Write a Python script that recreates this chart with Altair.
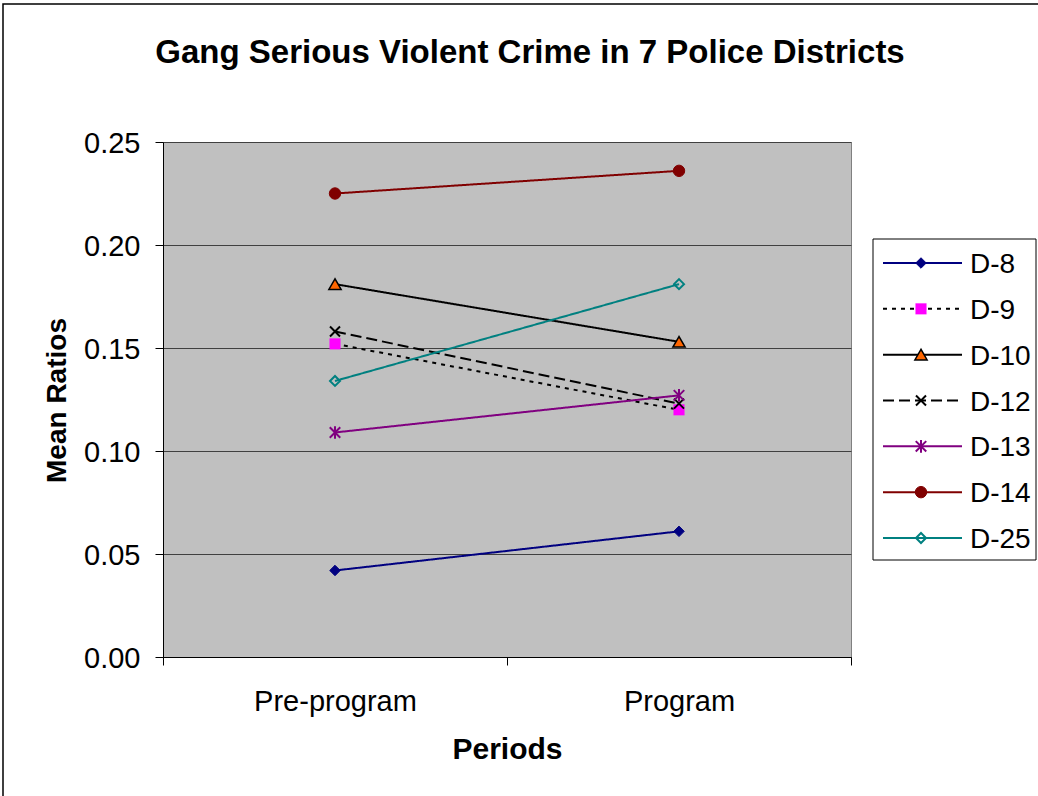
import altair as alt
import pandas as pd

periods = ["Pre-program", "Program"]
series = ["D-8", "D-9", "D-10", "D-12", "D-13", "D-14", "D-25"]
pre_values = [0.042, 0.152, 0.181, 0.158, 0.109, 0.225, 0.134]
program_values = [0.061, 0.120, 0.153, 0.123, 0.127, 0.236, 0.181]
y_ticks = [0.0, 0.05, 0.10, 0.15, 0.20, 0.25]
title_text = "Gang Serious Violent Crime in 7 Police Districts"

line_colors = ["#000080", "#000000", "#000000", "#000000", "#800080", "#800000", "#008080"]
line_dashes = [[1, 0], [4, 5], [1, 0], [11, 5], [1, 0], [1, 0], [1, 0]]
marker_shapes = [
    "diamond",
    "square",
    "triangle-up",
    "M-1,-1L1,1M-1,1L1,-1",
    "M-1,-1L1,1M-1,1L1,-1M0,-1.2L0,1.2",
    "circle",
    "diamond",
]
marker_fills = ["#000080", "#FF00FF", "#FF6600", "transparent", "transparent", "#800000", "transparent"]
marker_strokes = ["#000080", "#FF00FF", "#000000", "#000000", "#800080", "#800000", "#008080"]
marker_widths = [1, 0.1, 1.5, 2, 2, 1, 2]
marker_sizes = [110, 120, 150, 100, 110, 130, 100]

rows = []
for s, a, b in zip(series, pre_values, program_values):
    rows.append({"series": s, "period": periods[0], "value": a})
    rows.append({"series": s, "period": periods[1], "value": b})
df = pd.DataFrame(rows)
legend_df = pd.DataFrame({"series": series})

FONT = "Liberation Sans"

lcolor_enc = alt.Color("series:N", scale=alt.Scale(domain=series, range=line_colors), legend=None)
dash_enc = alt.StrokeDash("series:N", scale=alt.Scale(domain=series, range=line_dashes), legend=None)
mstroke_enc = alt.Stroke("series:N", scale=alt.Scale(domain=series, range=marker_strokes), legend=None)
mfill_enc = alt.Fill("series:N", scale=alt.Scale(domain=series, range=marker_fills), legend=None)
mshape_enc = alt.Shape("series:N", scale=alt.Scale(domain=series, range=marker_shapes), legend=None)
msize_enc = alt.Size("series:N", scale=alt.Scale(type="ordinal", domain=series, range=marker_sizes), legend=None)
mwidth_enc = alt.StrokeWidth("series:N", scale=alt.Scale(type="ordinal", domain=series, range=marker_widths), legend=None)

x_scale = alt.Scale(type="band", domain=periods, paddingInner=0, paddingOuter=0)
x_enc = alt.X(
    "period:N",
    sort=periods,
    scale=x_scale,
    axis=alt.Axis(
        title="Periods",
        tickBand="extent",
        labelAngle=0,
        grid=False,
        domainColor="black",
        tickColor="black",
        tickSize=8,
        labelFont=FONT,
        labelFontSize=29,
        labelColor="black",
        labelBaseline="alphabetic",
        labelPadding=45,
        titleFont=FONT,
        titleFontSize=30,
        titleFontWeight="bold",
        titleColor="black",
        titleBaseline="alphabetic",
        titleY=101,
    ),
)

y_scale = alt.Scale(domain=[0, 0.25], nice=False, zero=True)
y_axis = alt.Axis(
    values=y_ticks,
    format=".2f",
    title="Mean Ratios",
    grid=True,
    gridColor="#404040",
    gridWidth=1,
    domainColor="black",
    tickColor="black",
    tickSize=8,
    labelFont=FONT,
    labelFontSize=29,
    labelColor="black",
    labelPadding=15,
    labelBaseline="alphabetic",
    labelOffset=10,
    titleFont=FONT,
    titleFontSize=28,
    titleFontWeight="bold",
    titleColor="black",
    titleAngle=270,
    titleAlign="center",
    titleBaseline="alphabetic",
    titleX=-98,
    titleY=258,
)

lines = alt.Chart(df).mark_line(strokeWidth=2).encode(
    x=x_enc,
    y=alt.Y("value:Q", scale=y_scale, axis=y_axis),
    color=lcolor_enc,
    strokeDash=dash_enc,
    order=alt.Order("period:N"),
)

points = alt.Chart(df).mark_point(opacity=1, fillOpacity=1, strokeOpacity=1).encode(
    x=alt.X("period:N", sort=periods, scale=x_scale),
    y=alt.Y("value:Q", scale=y_scale, axis=None),
    stroke=mstroke_enc,
    fill=mfill_enc,
    shape=mshape_enc,
    size=msize_enc,
    strokeWidth=mwidth_enc,
)

legend_y = alt.Y("series:N", sort=series,
                 scale=alt.Scale(type="point", domain=series, range=[121, 396], padding=0),
                 axis=None)

legend_box = alt.Chart(pd.DataFrame({"k": [0]})).mark_rect(
    fill="white", stroke="black", strokeWidth=1
).encode(x=alt.value(710), x2=alt.value(873), y=alt.value(97), y2=alt.value(418))

legend_rules = alt.Chart(legend_df).mark_rule(strokeWidth=2).encode(
    x=alt.value(720), x2=alt.value(799), y=legend_y, color=lcolor_enc, strokeDash=dash_enc
)

legend_points = alt.Chart(legend_df).mark_point(opacity=1, fillOpacity=1, strokeOpacity=1).encode(
    x=alt.value(758), y=legend_y, stroke=mstroke_enc, fill=mfill_enc,
    shape=mshape_enc, size=msize_enc, strokeWidth=mwidth_enc,
)

legend_text = alt.Chart(legend_df).mark_text(
    align="left", baseline="alphabetic", dy=10, font=FONT, fontSize=28, color="black"
).encode(x=alt.value(807), y=legend_y, text="series:N")

title_mark = alt.Chart(pd.DataFrame({"t": [title_text]})).mark_text(
    align="center", baseline="alphabetic", font=FONT, fontSize=33, fontWeight="bold", color="black"
).encode(x=alt.value(367), y=alt.value(-79), text="t:N")

frame = alt.Chart(pd.DataFrame({"k": [0]})).mark_rect(
    fillOpacity=0, stroke="black", strokeWidth=1.5
).encode(x=alt.value(-160), x2=alt.value(1000), y=alt.value(-138), y2=alt.value(800))

chart = alt.layer(
    lines, points, legend_box, legend_rules, legend_points, legend_text, title_mark, frame
).resolve_scale(y="independent").properties(
    width=688,
    height=515,
    autosize=alt.AutoSizeParams(type="none"),
    padding={"left": 163, "top": 142, "right": 187, "bottom": 139},
    background="white",
).configure_view(fill="#C0C0C0", stroke="#808080", strokeWidth=1)

chart.save("out.html", embed_options={"renderer": "svg", "actions": False})
